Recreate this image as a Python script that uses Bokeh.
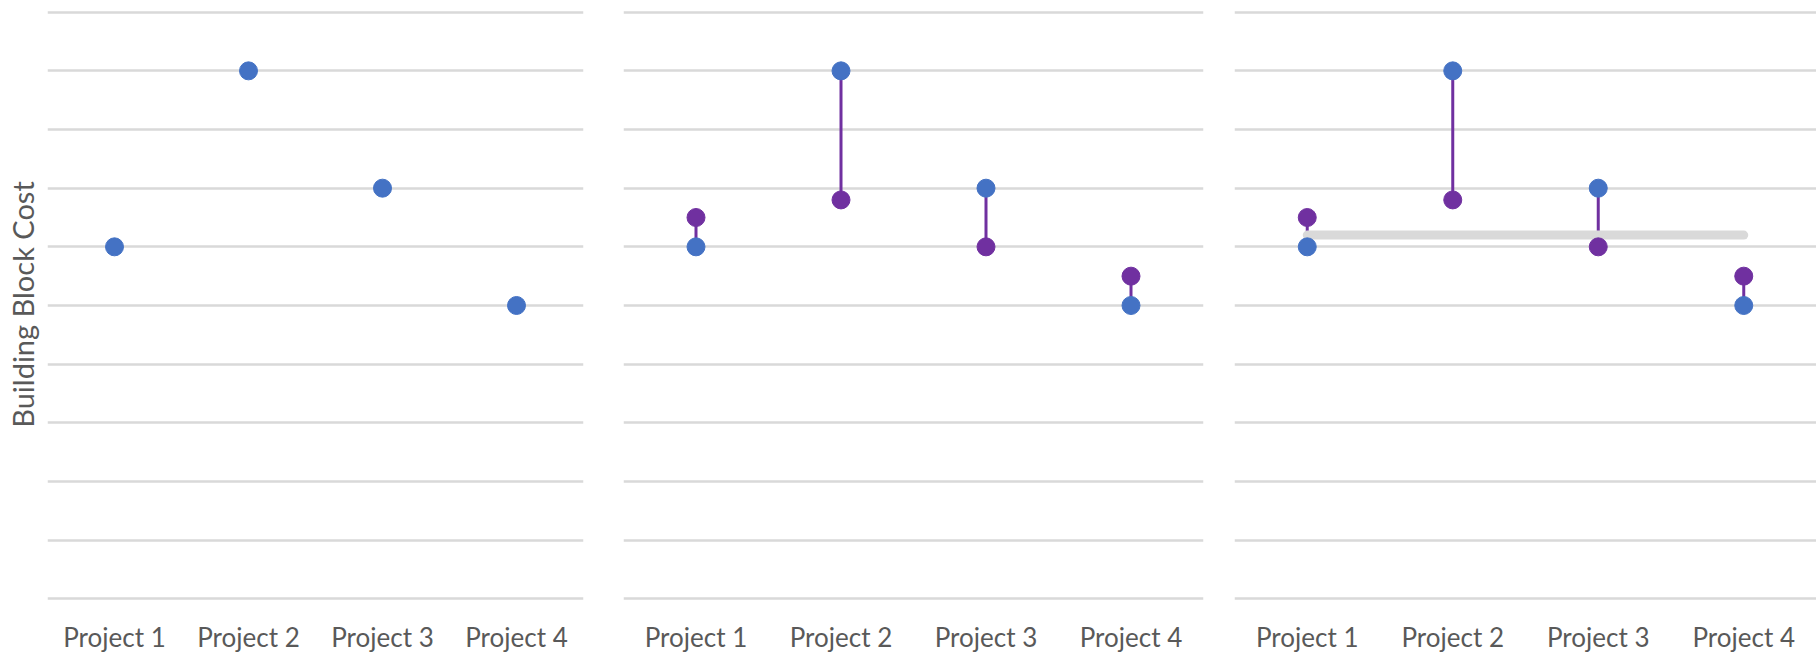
from bokeh.plotting import figure
from bokeh.layouts import row
from bokeh.models import Range1d, FixedTicker, ColumnDataSource
from bokeh.embed import file_html
from bokeh.resources import INLINE

# ---- data ----
projects = ["Project 1", "Project 2", "Project 3", "Project 4"]
initial_cost = [6, 9, 7, 5]
revised_cost = [6.5, 6.8, 6, 5.5]
benchmark = 6.2
grid_values = [0, 1, 2, 3, 4, 5, 6, 7, 8, 9, 10]
y_label = "Building Block Cost"

BLUE = "#4472C4"
PURPLE = "#7030A0"
GRID = "#D9D9D9"
TEXT = "#595959"
FONT = "Lato"

src = ColumnDataSource(dict(x=projects, a=initial_cost, b=revised_cost))


def make_panel(frame_w, left, right, show_label):
    p = figure(x_range=projects, y_range=Range1d(-0.029, 10.063),
               frame_width=frame_w, frame_height=592,
               min_border_left=left, min_border_right=right,
               min_border_top=8, min_border_bottom=45,
               output_backend="svg", toolbar_location=None)
    p.outline_line_color = None
    p.background_fill_color = "white"
    p.border_fill_color = "white"
    p.xgrid.grid_line_color = None
    p.ygrid.ticker = FixedTicker(ticks=grid_values)
    p.ygrid.grid_line_color = GRID
    p.ygrid.grid_line_width = 2.5

    xa = p.xaxis[0]
    xa.axis_line_color = None
    xa.major_tick_line_color = None
    xa.minor_tick_line_color = None
    xa.major_label_text_font = FONT
    xa.major_label_text_font_size = "26px"
    xa.major_label_text_color = TEXT
    xa.major_label_standoff = 14

    ya = p.yaxis[0]
    ya.ticker = FixedTicker(ticks=[])
    ya.axis_line_color = None
    ya.major_tick_line_color = None
    ya.minor_tick_line_color = None
    if show_label:
        ya.axis_label = y_label
        ya.axis_label_text_font = FONT
        ya.axis_label_text_font_size = "29px"
        ya.axis_label_text_font_style = "normal"
        ya.axis_label_text_color = TEXT
        ya.axis_label_standoff = 8
    else:
        ya.visible = False
    return p


p1 = make_panel(536, 47, 20, True)
p1.scatter("x", "a", source=src, size=18, color=BLUE)

p2 = make_panel(580, 20, 15, False)
p2.segment(x0="x", y0="a", x1="x", y1="b", source=src, line_color=PURPLE, line_width=3)
p2.scatter("x", "b", source=src, size=18, color=PURPLE)
p2.scatter("x", "a", source=src, size=18, color=BLUE)

p3 = make_panel(582, 16, 0, False)
p3.segment(x0="x", y0="a", x1="x", y1="b", source=src, line_color=PURPLE, line_width=3)
p3.segment(x0=[projects[0]], y0=[benchmark], x1=[projects[-1]], y1=[benchmark],
           line_color=GRID, line_width=9, line_cap="round")
p3.scatter("x", "b", source=src, size=18, color=PURPLE)
p3.scatter("x", "a", source=src, size=18, color=BLUE)

layout = row(p1, p2, p3)
open("out.html", "w").write(file_html(layout, INLINE))
